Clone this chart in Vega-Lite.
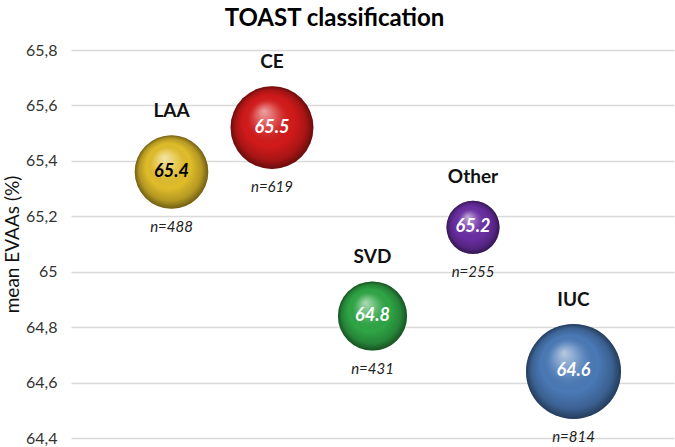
{
  "$schema": "https://vega.github.io/schema/vega-lite/v6.json",
  "autosize": "none",
  "width": 603,
  "height": 388,
  "padding": {"left": 71, "top": 50, "right": 1, "bottom": 9},
  "background": "white",
  "config": {
    "view": {"stroke": null},
    "font": "Lato"
  },
  "title": {
    "text": "TOAST classification",
    "font": "Lato",
    "fontSize": 24,
    "fontWeight": "bold",
    "color": "#000000",
    "anchor": "middle",
    "frame": "group",
    "dx": -38,
    "offset": 11
  },
  "data": {
    "values": [
      {"category": "LAA", "pos": 1, "mean": 65.36, "n": 488, "label": "65.4"},
      {"category": "CE", "pos": 2, "mean": 65.52, "n": 619, "label": "65.5"},
      {"category": "SVD", "pos": 3, "mean": 64.84, "n": 431, "label": "64.8"},
      {"category": "Other", "pos": 4, "mean": 65.16, "n": 255, "label": "65.2"},
      {"category": "IUC", "pos": 5, "mean": 64.64, "n": 814, "label": "64.6"}
    ]
  },
  "encoding": {
    "x": {"field": "pos", "type": "quantitative", "scale": {"domain": [0, 6]}, "axis": null},
    "y": {
      "field": "mean",
      "type": "quantitative",
      "scale": {"domain": [64.4, 65.8], "zero": false, "nice": false},
      "axis": {
        "title": "mean EVAAs (%)",
        "values": [64.4, 64.6, 64.8, 65, 65.2, 65.4, 65.6, 65.8],
        "labelExpr": "replace(format(datum.value, '.1~f'), '.', ',')",
        "domain": false,
        "ticks": false,
        "labelPadding": 14,
        "labelFontSize": 16,
        "labelColor": "#333333",
        "labelFont": "Lato",
        "grid": true,
        "gridColor": "#d9d9d9",
        "gridWidth": 1.5,
        "titleFont": "Lato",
        "titleFontSize": 19,
        "titleFontWeight": "normal",
        "titleColor": "#111111",
        "titleX": -59,
        "titleY": 194,
        "titleBaseline": "middle",
        "titleAlign": "center"
      }
    }
  },
  "layer": [
    {
      "mark": {
        "type": "circle",
        "opacity": 1,
        "dx": 3,
        "dy": 5,
        "fill": {
          "gradient": "radial",
          "x1": 0.5, "y1": 0.5, "r1": 0,
          "x2": 0.5, "y2": 0.5, "r2": 0.5,
          "stops": [
            {"offset": 0, "color": "rgba(0,0,0,0.35)"},
            {"offset": 0.8, "color": "rgba(0,0,0,0.25)"},
            {"offset": 1, "color": "rgba(0,0,0,0)"}
          ]
        }
      },
      "encoding": {
        "size": {"field": "n", "type": "quantitative", "scale": {"domain": [0, 814], "range": [0, 9025]}, "legend": null}
      }
    },
    {
      "mark": {"type": "circle", "opacity": 1},
      "encoding": {
        "size": {"field": "n", "type": "quantitative", "legend": null},
        "color": {
          "field": "category",
          "type": "nominal",
          "scale": {
            "domain": ["LAA", "CE", "SVD", "Other", "IUC"],
            "range": ["#e0bd2a", "#d21a1a", "#2fa545", "#6a2ea2", "#4a79b6"]
          },
          "legend": null
        }
      }
    },
    {
      "mark": {
        "type": "circle",
        "opacity": 1,
        "fill": {
          "gradient": "radial",
          "x1": 0.4, "y1": 0.3, "r1": 0,
          "x2": 0.5, "y2": 0.5, "r2": 0.5,
          "stops": [
            {"offset": 0, "color": "rgba(255,255,255,0.6)"},
            {"offset": 0.35, "color": "rgba(255,255,255,0.12)"},
            {"offset": 0.6, "color": "rgba(0,0,0,0)"},
            {"offset": 0.85, "color": "rgba(0,0,0,0.2)"},
            {"offset": 1, "color": "rgba(0,0,0,0.5)"}
          ]
        }
      },
      "encoding": {
        "size": {"field": "n", "type": "quantitative", "legend": null}
      }
    },
    {
      "mark": {
        "type": "text",
        "font": "Lato",
        "fontSize": 18,
        "fontWeight": "bold",
        "fontStyle": "italic",
        "baseline": "middle",
        "align": "center"
      },
      "encoding": {
        "text": {"field": "label"},
        "color": {"condition": {"test": "datum.category === 'LAA'", "value": "#000000"}, "value": "#ffffff"}
      }
    },
    {
      "mark": {
        "type": "text",
        "font": "Lato",
        "fontSize": 19,
        "fontWeight": "bold",
        "color": "#111111",
        "baseline": "middle",
        "align": "center",
        "dy": {"expr": "-(47.5*sqrt(datum.n/814)+24)"}
      },
      "encoding": {
        "text": {"field": "category"}
      }
    },
    {
      "mark": {
        "type": "text",
        "font": "Lato",
        "fontSize": 15,
        "fontStyle": "italic",
        "color": "#222222",
        "baseline": "middle",
        "align": "center",
        "text": {"expr": "'n=' + datum.n"},
        "dy": {"expr": "47.5*sqrt(datum.n/814)+18"}
      },
      "encoding": {}
    }
  ]
}
